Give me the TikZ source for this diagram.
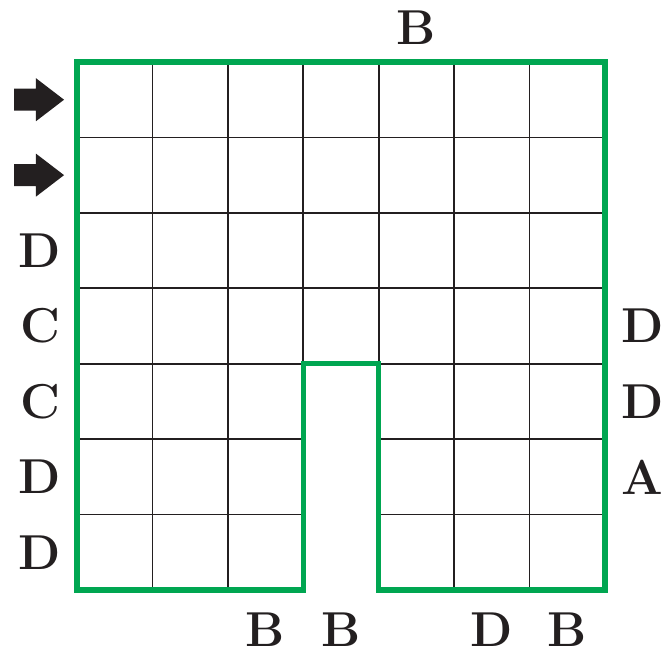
\documentclass[tikz,border=0pt]{standalone}
\usepackage{tikz}
\usetikzlibrary{calc}
\definecolor{wall}{HTML}{00A651}
\definecolor{ink}{HTML}{231F20}

\begin{document}
\begin{tikzpicture}[
          gridline/.style = {draw=ink, line width=0.6pt},
          outline/.style = {draw=wall, line width=1.9pt, line join=miter},
          lbl/.style = {font=\fontsize{18.5}{22}\selectfont\bfseries, text=ink, inner sep=0pt},
          entry/.style = {fill=ink},
        ]
        \useasboundingbox (-1.021,-0.822) rectangle (7.769,7.822);
        % grid
        \foreach \y in {4,5,6} \draw[gridline] (0,\y) -- (7,\y);
        \foreach \y in {1,2,3} {
          \draw[gridline] (0,\y) -- (3,\y);
          \draw[gridline] (4,\y) -- (7,\y);
        }
        \foreach \x in {1,2,5,6} \draw[gridline] (\x,0) -- (\x,7);
        \foreach \x in {3,4} \draw[gridline] (\x,3) -- (\x,7);
        % outer wall
        \draw[outline] (0,0) -- (0,7) -- (7,7) -- (7,0) -- (4,0) -- (4,3) -- (3,3) -- (3,0) -- cycle;
        % entry arrows
        \foreach \y in {6.5,5.5}
          \fill[entry] (-0.835,\y+0.146) -- (-0.544,\y+0.146) -- (-0.544,\y+0.285)
                       -- (-0.172,\y) -- (-0.544,\y-0.285) -- (-0.544,\y-0.146)
                       -- (-0.835,\y-0.146) -- cycle;
        % clues
        \node[lbl] (top5) at (4.5,7.46) {B};
        \node[lbl] (left3) at (-0.49,4.5) {D};
        \node[lbl] (left4) at (-0.49,3.5) {C};
        \node[lbl] (left5) at (-0.49,2.5) {C};
        \node[lbl] (left6) at (-0.49,1.5) {D};
        \node[lbl] (left7) at (-0.49,0.5) {D};
        \node[lbl] (right4) at (7.5,3.5) {D};
        \node[lbl] (right5) at (7.5,2.5) {D};
        \node[lbl] (right6) at (7.5,1.5) {A};
        \node[lbl] (bot3) at (2.5,-0.52) {B};
        \node[lbl] (bot4) at (3.5,-0.52) {B};
        \node[lbl] (bot6) at (5.5,-0.52) {D};
        \node[lbl] (bot7) at (6.5,-0.52) {B};
      \end{tikzpicture}
\end{document}
